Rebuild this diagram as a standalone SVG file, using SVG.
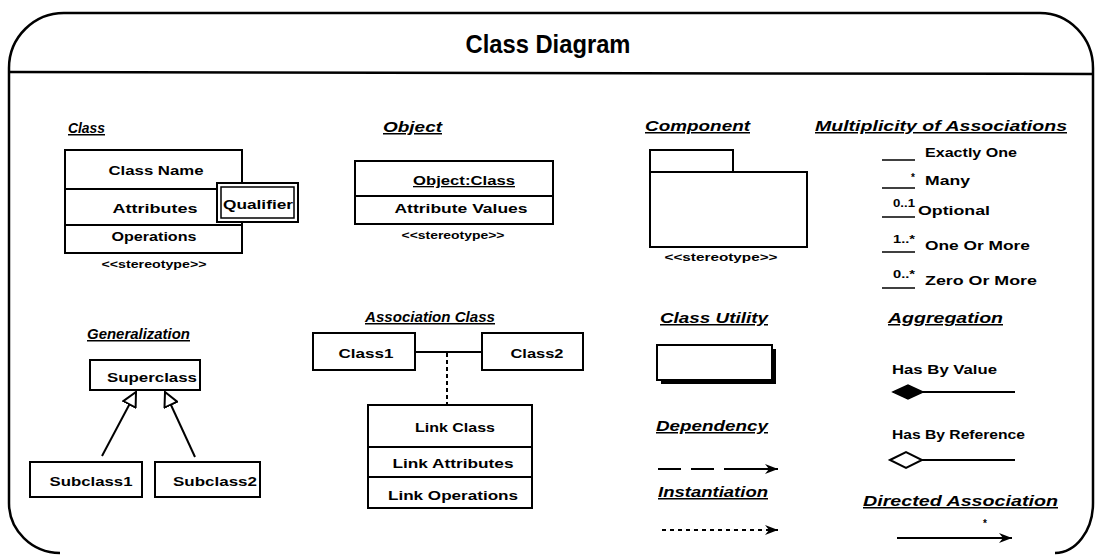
<svg xmlns="http://www.w3.org/2000/svg" width="1095" height="555" viewBox="0 0 1095 555">
<defs>
<style>
.t{font-family:"Liberation Sans",Arial,sans-serif;font-weight:bold;fill:#000}
.h{font-size:15px;font-style:italic;text-decoration:underline}
.b{font-size:13px}
.m{font-size:12px}
.s{font-size:10px}
.c{text-anchor:middle}
.box{fill:#fff;stroke:#000;stroke-width:2}
.ln{fill:none;stroke:#000;stroke-width:2}
.thin{fill:none;stroke:#000;stroke-width:1.6}
</style>
<marker id="tri" viewBox="0 0 16 16" refX="15" refY="8" markerWidth="16" markerHeight="16" markerUnits="userSpaceOnUse" orient="auto">
<path d="M1,1 L15,8 L1,15 Z" fill="#fff" stroke="#000" stroke-width="2"/>
</marker>
<marker id="barb" viewBox="0 0 14 10" refX="13" refY="5" markerWidth="14" markerHeight="10" markerUnits="userSpaceOnUse" orient="auto">
<path d="M0,0 L13,5 L0,10 L4,5 Z" fill="#000"/>
</marker>
</defs>
<rect width="1095" height="555" fill="#fff"/>
<g id="frame">
<path d="M60,553 A52 50 0 0 1 9,503 V68 A55 55 0 0 1 65,13 H1040 A53 55 0 0 1 1093,68 V503 A38 50 0 0 1 1055,553" fill="none" stroke="#000" stroke-width="2.5"/>
<line x1="9" y1="72" x2="1093" y2="74" stroke="#000" stroke-width="2.5"/>
<text class="t c" x="548" y="53" font-size="26" textLength="165" lengthAdjust="spacingAndGlyphs">Class Diagram</text>
</g>
<g id="headings">
<text class="t h" x="68" y="133" textLength="37" lengthAdjust="spacingAndGlyphs">Class</text>
<text class="t h" x="383" y="132" textLength="59" lengthAdjust="spacingAndGlyphs">Object</text>
<text class="t h" x="645" y="131" textLength="105" lengthAdjust="spacingAndGlyphs">Component</text>
<text class="t h" x="815" y="131" textLength="252" lengthAdjust="spacingAndGlyphs">Multiplicity of Associations</text>
<text class="t h" x="87" y="339" textLength="103" lengthAdjust="spacingAndGlyphs">Generalization</text>
<text class="t h" x="365" y="322" textLength="130" lengthAdjust="spacingAndGlyphs">Association Class</text>
<text class="t h" x="660" y="323" textLength="108" lengthAdjust="spacingAndGlyphs">Class Utility</text>
<text class="t h" x="656" y="431" textLength="112" lengthAdjust="spacingAndGlyphs">Dependency</text>
<text class="t h" x="658" y="497" textLength="110" lengthAdjust="spacingAndGlyphs">Instantiation</text>
<text class="t h" x="888" y="323" textLength="115" lengthAdjust="spacingAndGlyphs">Aggregation</text>
<text class="t h" x="863" y="506" textLength="195" lengthAdjust="spacingAndGlyphs">Directed Association</text>
</g>
<g id="class">
<rect class="box" x="65" y="150" width="177" height="103"/>
<line class="ln" x1="65" y1="189" x2="242" y2="189" stroke-width="2.5"/>
<line class="ln" x1="65" y1="225" x2="242" y2="225" stroke-width="2.5"/>
<text class="t b c" x="156" y="175" textLength="95" lengthAdjust="spacingAndGlyphs">Class Name</text>
<text class="t b c" x="155" y="213" textLength="85" lengthAdjust="spacingAndGlyphs">Attributes</text>
<text class="t b c" x="154" y="241" textLength="85" lengthAdjust="spacingAndGlyphs">Operations</text>
<text class="t s c" x="154" y="268" textLength="105" lengthAdjust="spacingAndGlyphs">&lt;&lt;stereotype&gt;&gt;</text>
</g>
<g id="qualifier">
<rect class="box" x="217" y="183" width="81" height="39"/>
<rect x="221" y="187" width="73" height="31" fill="none" stroke="#000" stroke-width="1.5"/>
<text class="t b c" x="258" y="209" textLength="70" lengthAdjust="spacingAndGlyphs">Qualifier</text>
</g>
<g id="object">
<rect class="box" x="355" y="161" width="198" height="63"/>
<line class="ln" x1="355" y1="196" x2="553" y2="196"/>
<text class="t b c" x="464" y="185" text-decoration="underline" textLength="102" lengthAdjust="spacingAndGlyphs">Object:Class</text>
<text class="t b c" x="461" y="213" textLength="133" lengthAdjust="spacingAndGlyphs">Attribute Values</text>
<text class="t s c" x="453" y="239" textLength="103" lengthAdjust="spacingAndGlyphs">&lt;&lt;stereotype&gt;&gt;</text>
</g>
<g id="component">
<rect class="box" x="650" y="150" width="83" height="22"/>
<rect class="box" x="650" y="172" width="157" height="75"/>
<text class="t s c" x="721" y="261" textLength="113" lengthAdjust="spacingAndGlyphs">&lt;&lt;stereotype&gt;&gt;</text>
</g>
<g id="multiplicity">
<line class="thin" x1="882" y1="160" x2="915" y2="160"/>
<text class="t m" x="925" y="157" textLength="92" lengthAdjust="spacingAndGlyphs">Exactly One</text>
<line class="thin" x1="882" y1="188" x2="915" y2="188"/>
<text class="t s" x="911" y="181">*</text>
<text class="t m" x="925" y="185" textLength="45" lengthAdjust="spacingAndGlyphs">Many</text>
<line class="thin" x1="882" y1="217" x2="915" y2="217"/>
<text class="t s" x="893" y="207" textLength="22" lengthAdjust="spacingAndGlyphs">0..1</text>
<text class="t m" x="918" y="215" textLength="72" lengthAdjust="spacingAndGlyphs">Optional</text>
<line class="thin" x1="882" y1="252" x2="915" y2="252"/>
<text class="t s" x="893" y="243" textLength="22" lengthAdjust="spacingAndGlyphs">1..*</text>
<text class="t m" x="925" y="250" textLength="105" lengthAdjust="spacingAndGlyphs">One Or More</text>
<line class="thin" x1="882" y1="288" x2="915" y2="288"/>
<text class="t s" x="893" y="278" textLength="22" lengthAdjust="spacingAndGlyphs">0..*</text>
<text class="t m" x="925" y="285" textLength="112" lengthAdjust="spacingAndGlyphs">Zero Or More</text>
</g>
<g id="superclass">
<rect class="box" x="90" y="360" width="110" height="30"/>
<text class="t b c" x="152" y="382" textLength="90" lengthAdjust="spacingAndGlyphs">Superclass</text>
</g>
<g id="subclass1">
<rect class="box" x="30" y="462" width="112" height="35"/>
<text class="t b c" x="91" y="486" textLength="83" lengthAdjust="spacingAndGlyphs">Subclass1</text>
</g>
<g id="subclass2">
<rect class="box" x="155" y="462" width="105" height="35"/>
<text class="t b c" x="215" y="486" textLength="84" lengthAdjust="spacingAndGlyphs">Subclass2</text>
</g>
<g id="class1">
<rect class="box" x="313" y="333" width="102" height="37"/>
<text class="t b c" x="366" y="358" textLength="55" lengthAdjust="spacingAndGlyphs">Class1</text>
</g>
<g id="class2">
<rect class="box" x="482" y="333" width="101" height="37"/>
<text class="t b c" x="537" y="358" textLength="53" lengthAdjust="spacingAndGlyphs">Class2</text>
</g>
<g id="linkclass">
<rect class="box" x="368" y="405" width="164" height="103"/>
<line class="ln" x1="368" y1="447" x2="532" y2="447"/>
<line class="ln" x1="368" y1="477" x2="532" y2="477"/>
<text class="t b c" x="455" y="432" textLength="80" lengthAdjust="spacingAndGlyphs">Link Class</text>
<text class="t b c" x="453" y="468" textLength="121" lengthAdjust="spacingAndGlyphs">Link Attributes</text>
<text class="t b c" x="453" y="500" textLength="130" lengthAdjust="spacingAndGlyphs">Link Operations</text>
</g>
<g id="classutility">
<rect x="661" y="349" width="115" height="35" fill="#000"/>
<rect class="box" x="657" y="345" width="115" height="35"/>
</g>
<g id="aggregation">
<text class="t m" x="892" y="374" textLength="105" lengthAdjust="spacingAndGlyphs">Has By Value</text>
<text class="t m" x="892" y="439" textLength="133" lengthAdjust="spacingAndGlyphs">Has By Reference</text>
<text class="t s" x="983" y="527">*</text>
</g>
<g id="connectors">
<line class="ln" x1="102" y1="456" x2="136" y2="392" marker-end="url(#tri)"/>
<line class="ln" x1="195" y1="457" x2="165" y2="392" marker-end="url(#tri)"/>
<line class="ln" x1="415" y1="352" x2="482" y2="352"/>
<line class="ln" x1="447" y1="353" x2="447" y2="405" stroke-dasharray="4 3"/>
<path class="ln" d="M658,469 H681 M691,469 H714 M724,469 H770"/>
<line class="ln" x1="770" y1="469" x2="778" y2="469" marker-end="url(#barb)"/>
<line class="ln" x1="662" y1="530" x2="778" y2="530" stroke-dasharray="4 4" marker-end="url(#barb)"/>
<polygon points="893,392 908,385 923,392 908,399" fill="#000" stroke="#000" stroke-width="1.5"/>
<line class="ln" x1="923" y1="392" x2="1015" y2="392"/>
<polygon points="890,460 906,452 922,460 906,468" fill="#fff" stroke="#000" stroke-width="2"/>
<line class="ln" x1="922" y1="460" x2="1015" y2="460"/>
<line class="ln" x1="897" y1="538" x2="1012" y2="538" marker-end="url(#barb)"/>
</g>
</svg>
